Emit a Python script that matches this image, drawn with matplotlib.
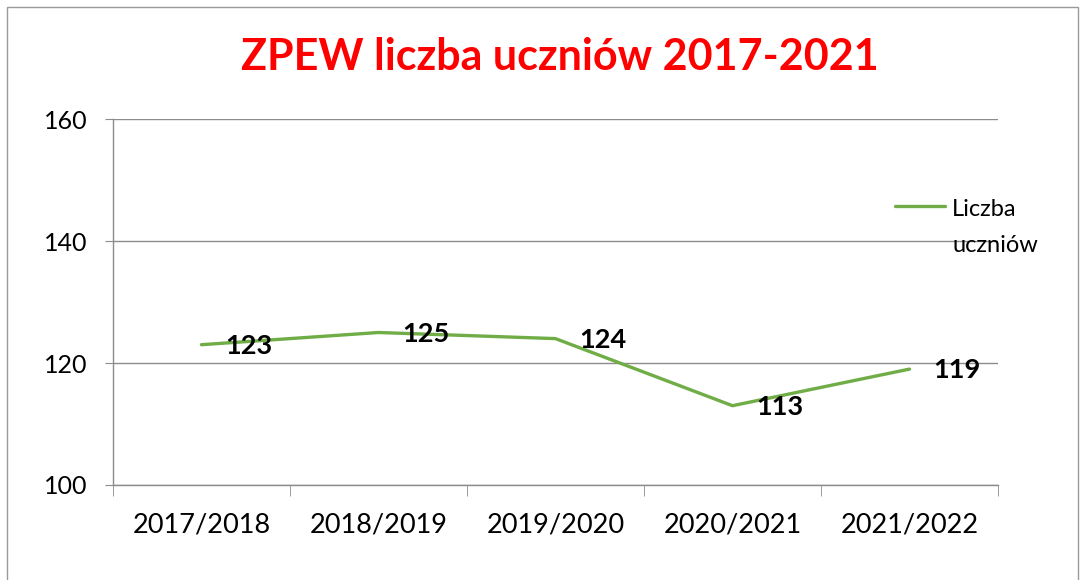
import matplotlib
matplotlib.use("Agg")
import matplotlib.pyplot as plt
from matplotlib.patches import Rectangle
from matplotlib.lines import Line2D

# data
categories = ["2017/2018", "2018/2019", "2019/2020", "2020/2021", "2021/2022"]
students = [123, 125, 124, 113, 119]
y_ticks = [100, 120, 140, 160]
title = "ZPEW liczba uczniów 2017-2021"
series_name = ["Liczba", "uczniów"]

plt.rcParams['font.family'] = ['Lato', 'DejaVu Sans']

fig = plt.figure(figsize=(10.85, 5.8), dpi=100)
ax = fig.add_axes([0.1041, 0.1638, 0.8157, 0.631])

# outer chart frame
fig.patches.append(Rectangle((7 / 1085, -0.05), 1071 / 1085, 1.05 - 7 / 580,
                             transform=fig.transFigure, fill=False,
                             edgecolor='#9a9a9a', linewidth=1.0))

x = list(range(len(categories)))
line_color = '#70AD47'
ax.plot(x, students, color=line_color, linewidth=2.4, solid_capstyle='round')

for xi, v in zip(x, students):
    ax.annotate(f"{v}", (xi, v), xytext=(34, -1), textcoords='offset points',
                ha='center', va='center', fontsize=19.5, fontweight='bold', color='black')

ax.set_xlim(-0.5, len(categories) - 0.5)
ax.set_ylim(100, 160)
ax.set_yticks(y_ticks)
ax.tick_params(axis='y', labelsize=18, length=6, color='#8c8c8c', pad=12)
ax.yaxis.grid(True, color='#8c8c8c', linewidth=1.0)
ax.set_axisbelow(True)

# category labels centred, tick marks between categories
ax.set_xticks(x)
ax.set_xticklabels(categories, fontsize=19.5)
ax.tick_params(axis='x', length=0, pad=20)
ax.set_xticks([i - 0.5 for i in range(len(categories) + 1)], minor=True)
ax.tick_params(axis='x', which='minor', length=8, color='#8c8c8c')

for side in ['top', 'right']:
    ax.spines[side].set_visible(False)
for side in ['left', 'bottom']:
    ax.spines[side].set_color('#8c8c8c')
    ax.spines[side].set_linewidth(1.0)

fig.text(0.516, 0.902, title, ha='center', va='center', fontsize=31,
         fontweight='bold', color='#FF0000')

# legend: handle sits level with the first line of the label
fig.lines.append(Line2D([895 / 1085, 945 / 1085], [1 - 206 / 580] * 2,
                        transform=fig.transFigure, color=line_color,
                        linewidth=2.4, solid_capstyle='round'))
for i, word in enumerate(series_name):
    fig.text(952 / 1085, 1 - (216 + 36 * i) / 580, word, ha='left',
             va='baseline', fontsize=17)

fig.savefig("out.png", dpi=100)
